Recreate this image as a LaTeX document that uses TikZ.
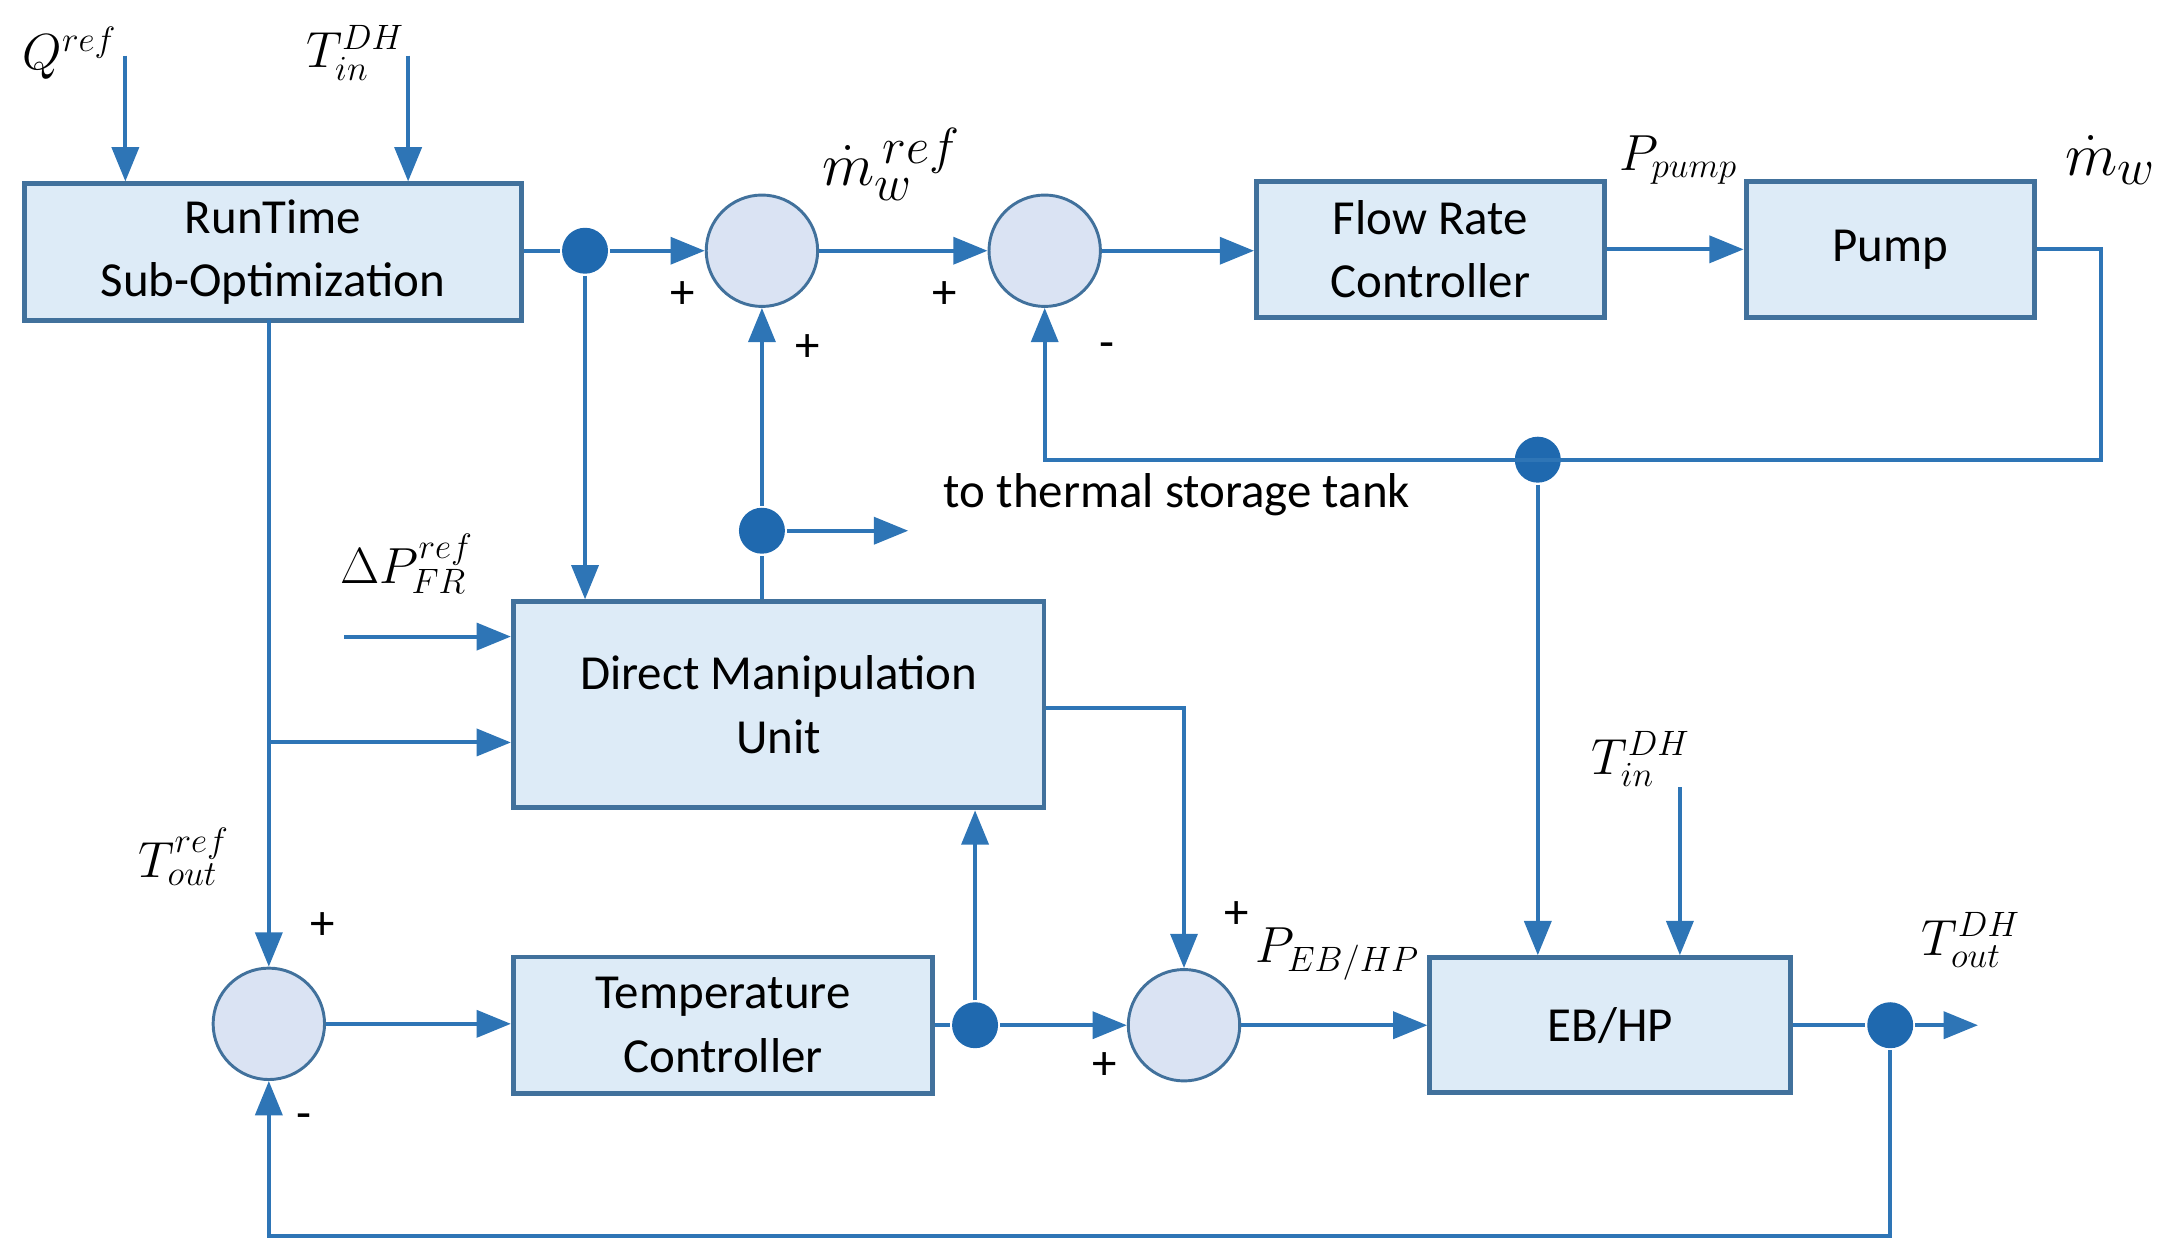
\documentclass[tikz,border=0pt]{standalone}
\usepackage{fontspec}
\setmainfont{Carlito}
\usetikzlibrary{arrows.meta}
\definecolor{ln}{RGB}{46,117,182}
\definecolor{bx}{RGB}{221,235,247}
\definecolor{bd}{RGB}{65,113,156}
\definecolor{sm}{RGB}{218,227,243}
\definecolor{dt}{RGB}{31,105,175}
\begin{document}
\begin{tikzpicture}[x=0.02cm,y=-0.02cm,
 line width=1.6pt,
 box/.style={draw=bd,fill=bx,line width=2pt,inner sep=0pt,align=center,font=\fontsize{20}{26}\selectfont},
 sum/.style={circle,draw=bd,fill=sm,line width=1.2pt,minimum size=1.6cm,inner sep=0pt},
 dot/.style={circle,fill=dt,minimum size=0.66cm,inner sep=0pt},
 a/.style={draw=ln,-{Triangle[length=14pt,width=11pt]}},
 c/.style={draw=ln},
 lab/.style={font=\fontsize{20}{24}\selectfont},
 ml/.style={font=\fontsize{22}{24}\selectfont}]
\useasboundingbox (0,0) rectangle (1560,904);
\node[box,minimum width=7.14cm,minimum height=1.96cm] (rt) at (196,181) {RunTime\\Sub-Optimization};
\node[box,minimum width=5cm,minimum height=1.96cm] (frc) at (1027,179) {Flow Rate\\Controller};
\node[box,minimum width=4.14cm,minimum height=1.96cm] (pump) at (1357,179) {Pump};
\node[box,minimum width=7.62cm,minimum height=2.96cm] (dmu) at (559,506) {Direct Manipulation\\Unit};
\node[box,minimum width=6.02cm,minimum height=1.96cm] (tc) at (519,736) {Temperature\\Controller};
\node[box,minimum width=5.18cm,minimum height=1.94cm] (eb) at (1156,736) {EB/HP};
\node[sum] (s1) at (547,180) {};
\node[sum] (s2) at (750,180) {};
\node[sum] (s3) at (193,735) {};
\node[sum] (s4) at (850,736) {};
\node[dot] (d1) at (420,180) {};
\node[dot] (d2) at (547,381) {};
\node[dot] (d3) at (1104,330) {};
\node[dot] (d4) at (700,736) {};
\node[dot] (d5) at (1357,736) {};
\coordinate (q) at (90,40); \coordinate (ti) at (293,40);
\coordinate (ts) at (652,381); \coordinate (dp) at (247,457);
\coordinate (ti2) at (1206,565); \coordinate (to) at (1420,736);
% labels
\node[ml] at (50,38) {$Q^{ref}$};
\node[ml] at (255,38) {$T_{in}^{DH}$};
\node[ml,font=\fontsize{28}{30}\selectfont] at (640,118) {$\dot{m}_w^{\,ref}$};
\node[ml] at (1205,115) {$P_{pump}$};
\node[ml,font=\fontsize{28}{30}\selectfont] at (1515,115) {$\dot{m}_w$};
\node[ml] at (292,405) {$\Delta P_{FR}^{ref}$};
\node[ml] at (132,615) {$T_{out}^{ref}$};
\node[ml] at (1178,545) {$T_{in}^{DH}$};
\node[ml] at (960,685) {$P_{EB/HP}$};
\node[ml] at (1415,675) {$T_{out}^{DH}$};
\node[lab] at (845,355) {to thermal storage tank};
\node[lab] at (490,212) {+}; \node[lab] at (580,250) {+};
\node[lab] at (678,212) {+}; \node[lab] at (795,252) {-};
\node[lab] at (232,665) {+}; \node[lab] at (218,805) {-};
\node[lab] at (888,657) {+}; \node[lab] at (793,765) {+};
% connectors
\draw[a] (q) -- (q|-rt.north);
\draw[a] (ti) -- (ti|-rt.north);
\draw[c] (rt.east|-d1) -- (d1);
\draw[a] (d1) -- (s1);
\draw[a] (s1) -- (s2);
\draw[a] (s2) -- (frc.west|-s2);
\draw[a] (frc.east) -- (pump.west|-frc.east);
\draw[a] (pump.east) -- (1508,179) -- (1508,330) -- (750,330) -- (s2.south);
\draw[a] (d3) -- (d3|-eb.north);
\draw[a] (d1) -- (d1|-dmu.north);
\draw[c] (d2|-dmu.north) -- (d2);
\draw[a] (d2) -- (s1.south);
\draw[a] (d2) -- (ts);
\draw[a] (dp) -- (dp-|dmu.west);
\draw[a] (193,230) -- (s3.north);
\draw[a] (193,533) -- (dmu.west|-193,533);
\draw[a] (s3) -- (tc.west|-s3);
\draw[c] (tc.east|-d4) -- (d4);
\draw[a] (d4) -- (s4);
\draw[a] (d4) -- (d4|-dmu.south);
\draw[a] (dmu.east|-850,508) -- (850,508) -- (s4.north);
\draw[a] (s4) -- (eb.west|-s4);
\draw[a] (ti2) -- (ti2|-eb.north);
\draw[c] (eb.east|-d5) -- (d5);
\draw[a] (d5) -- (to);
\draw[a] (d5) -- (1357,887) -- (193,887) -- (s3.south);
\end{tikzpicture}
\end{document}
